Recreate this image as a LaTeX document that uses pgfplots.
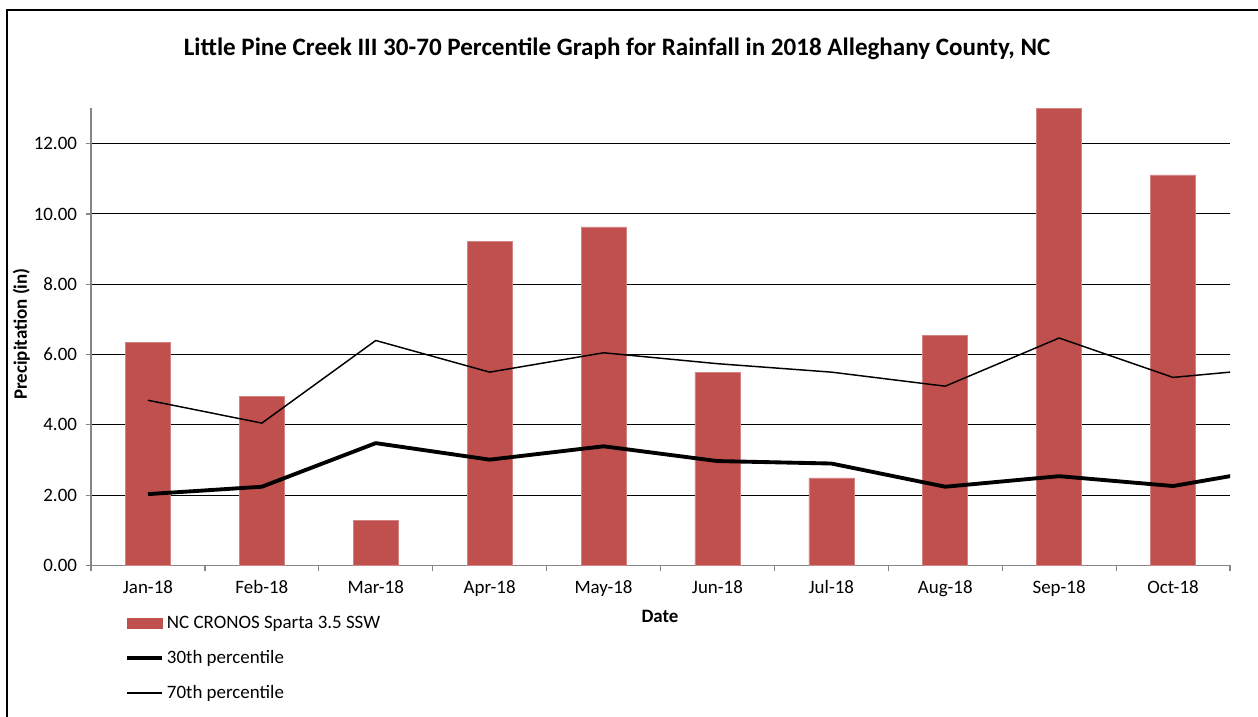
\documentclass[border=0pt]{standalone}
\usepackage{pgfplots}
\pgfplotsset{compat=1.18}
\usepackage{fontspec}
\setmainfont{Carlito}
\definecolor{barred}{HTML}{C0504D}
\definecolor{axgray}{HTML}{868686}
\begin{document}
\begin{tikzpicture}
\useasboundingbox (0,0) rectangle (943.5pt,-537.75pt);
\draw[line width=1.1pt] (5.25pt,-545pt) -- (5.25pt,-7.5pt) -- (950pt,-7.5pt);
\begin{axis}[
  at={(68.25pt,-424.1pt)}, anchor=south west,
  scale only axis, width=854.25pt, height=342.75pt,
  xmin=-0.5, xmax=9.5, ymin=0, ymax=13,
  axis lines*=left,
  axis line style={axgray, line width=0.9pt},
  xtick={0,...,9},
  xticklabels={Jan-18,Feb-18,Mar-18,Apr-18,May-18,Jun-18,Jul-18,Aug-18,Sep-18,Oct-18},
  major x tick style={draw=none},
  minor xtick={-0.5,0.5,...,9.5},
  minor tick length=4.5pt,
  minor x tick style={axgray, line width=0.9pt},
  tick align=outside,
  ytick={0,2,...,12},
  major tick length=4pt,
  major y tick style={axgray, line width=0.9pt},
  ymajorgrids,
  major grid style={black, line width=0.7pt},
  yticklabel={\pgfmathprintnumber[fixed,fixed zerofill,precision=2]{\tick}},
  /pgf/number format/assume math mode=true,
  tick label style={font=\fontsize{14.2}{16}\selectfont, text=black},
  xticklabel style={yshift=-4pt},
  yticklabel style={xshift=-3pt},
  legend style={at={(0.03,-0.105)}, anchor=north west, draw=none, fill=none,
    font=\fontsize{14.2}{16}\selectfont, row sep=10.8pt, inner sep=0pt,
    legend cell align=left},
  legend cell align=left,
]
\addplot[ybar, bar width=0.395, fill=barred, draw=barred!70!white, line width=0.4pt,
  area legend,
  legend image code/.code={\fill[barred] (0pt,-3.75pt) rectangle (26.25pt,3.75pt);}]
  coordinates {(0,6.34) (1,4.80) (2,1.29) (3,9.23) (4,9.63) (5,5.50) (6,2.49) (7,6.54) (8,13.0) (9,11.11)};
\addlegendentry{NC CRONOS Sparta 3.5 SSW}
\addplot[black, line width=2.9pt, line join=round,
  legend image code/.code={\draw[black, line width=2.9pt] (0pt,0pt) -- (26.25pt,0pt);}]
  coordinates {(0,2.03) (1,2.24) (2,3.48) (3,3.01) (4,3.39) (5,2.97) (6,2.90) (7,2.24) (8,2.54) (9,2.26) (10,2.82)};
\addlegendentry{30th percentile}
\addplot[black, line width=1.1pt, line join=round,
  legend image code/.code={\draw[black, line width=1.1pt] (0pt,0pt) -- (26.25pt,0pt);}]
  coordinates {(0,4.70) (1,4.05) (2,6.40) (3,5.50) (4,6.05) (5,5.74) (6,5.50) (7,5.10) (8,6.47) (9,5.35) (10,5.65)};
\addlegendentry{70th percentile}
\end{axis}
\node[font=\bfseries\fontsize{18.8}{22}\selectfont] at (462.75pt,-36.5pt) {Little Pine Creek III 30-70 Percentile Graph for Rainfall in 2018 Alleghany County, NC};
\node[font=\bfseries\fontsize{14.2}{16}\selectfont, rotate=90] at (16pt,-250.5pt) {Precipitation (in)};
\node[font=\bfseries\fontsize{14.2}{16}\selectfont] at (495pt,-462pt) {Date};
\end{tikzpicture}
\end{document}
